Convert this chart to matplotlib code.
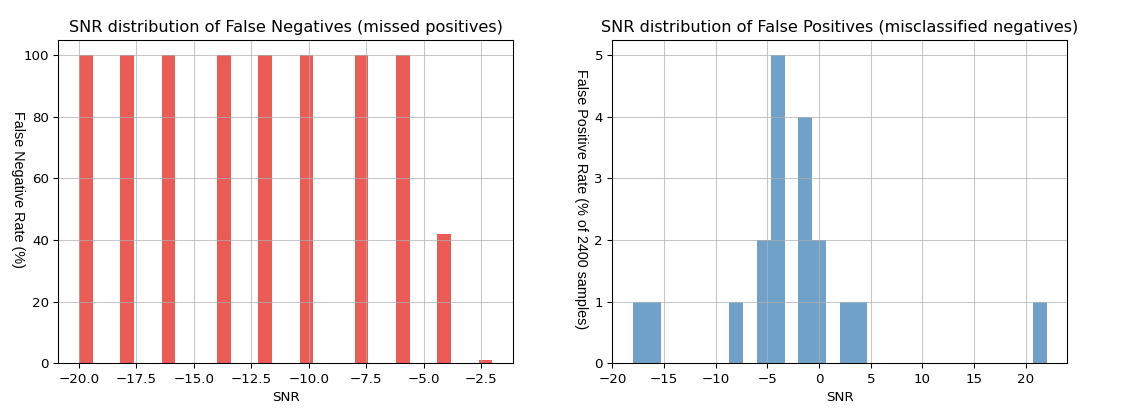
import numpy as np
import matplotlib
matplotlib.use("Agg")
import matplotlib.pyplot as plt

# SNR levels and false negative rate (%) per level
fn_snr = [-20, -18, -16, -14, -12, -10, -8, -6, -4, -2]
fn_rate = [100, 100, 100, 100, 100, 100, 100, 100, 42, 1]

# SNR levels of misclassified negatives and their share
fp_snr = [-18, -16, -8, -6, -4, -2, 0, 2, 4, 22]
fp_rate = [1, 1, 1, 2, 5, 4, 2, 1, 1, 1]

# rendered a touch smaller than 100 dpi, keeps 1121x408 output
dpi = 96.5
fig, (ax1, ax2) = plt.subplots(1, 2, figsize=(1121 / dpi, 408 / dpi), dpi=dpi)
fig.subplots_adjust(left=0.052, right=0.952, bottom=0.110, top=0.902, wspace=0.218)

ylab_font = dict(family="Liberation Sans", fontsize=10.7, rotation=270,
                 va="center", ha="center", rotation_mode="anchor")

# false negatives
ax1.hist(fn_snr, bins=30, weights=fn_rate, color="#e83f38", alpha=0.85)
ax1.set_title("SNR distribution of False Negatives (missed positives)")
ax1.set_xlabel("SNR")
ax1.set_ylabel("False Negative Rate (%)", **ylab_font)
ax1.yaxis.set_label_coords(-0.088, 0.536)
ax1.grid(True, alpha=0.7)

# false positives
ax2.hist(fp_snr, bins=30, weights=fp_rate, color="#4083b8", alpha=0.75)
ax2.set_title("SNR distribution of False Positives (misclassified negatives)")
ax2.set_xlabel("SNR")
ax2.set_ylabel("False Positive Rate (% of 2400 samples)", **ylab_font)
ax2.yaxis.set_label_coords(-0.068, 0.506)
ax2.grid(True, alpha=0.7)

fig.savefig("out.png", dpi=dpi)
